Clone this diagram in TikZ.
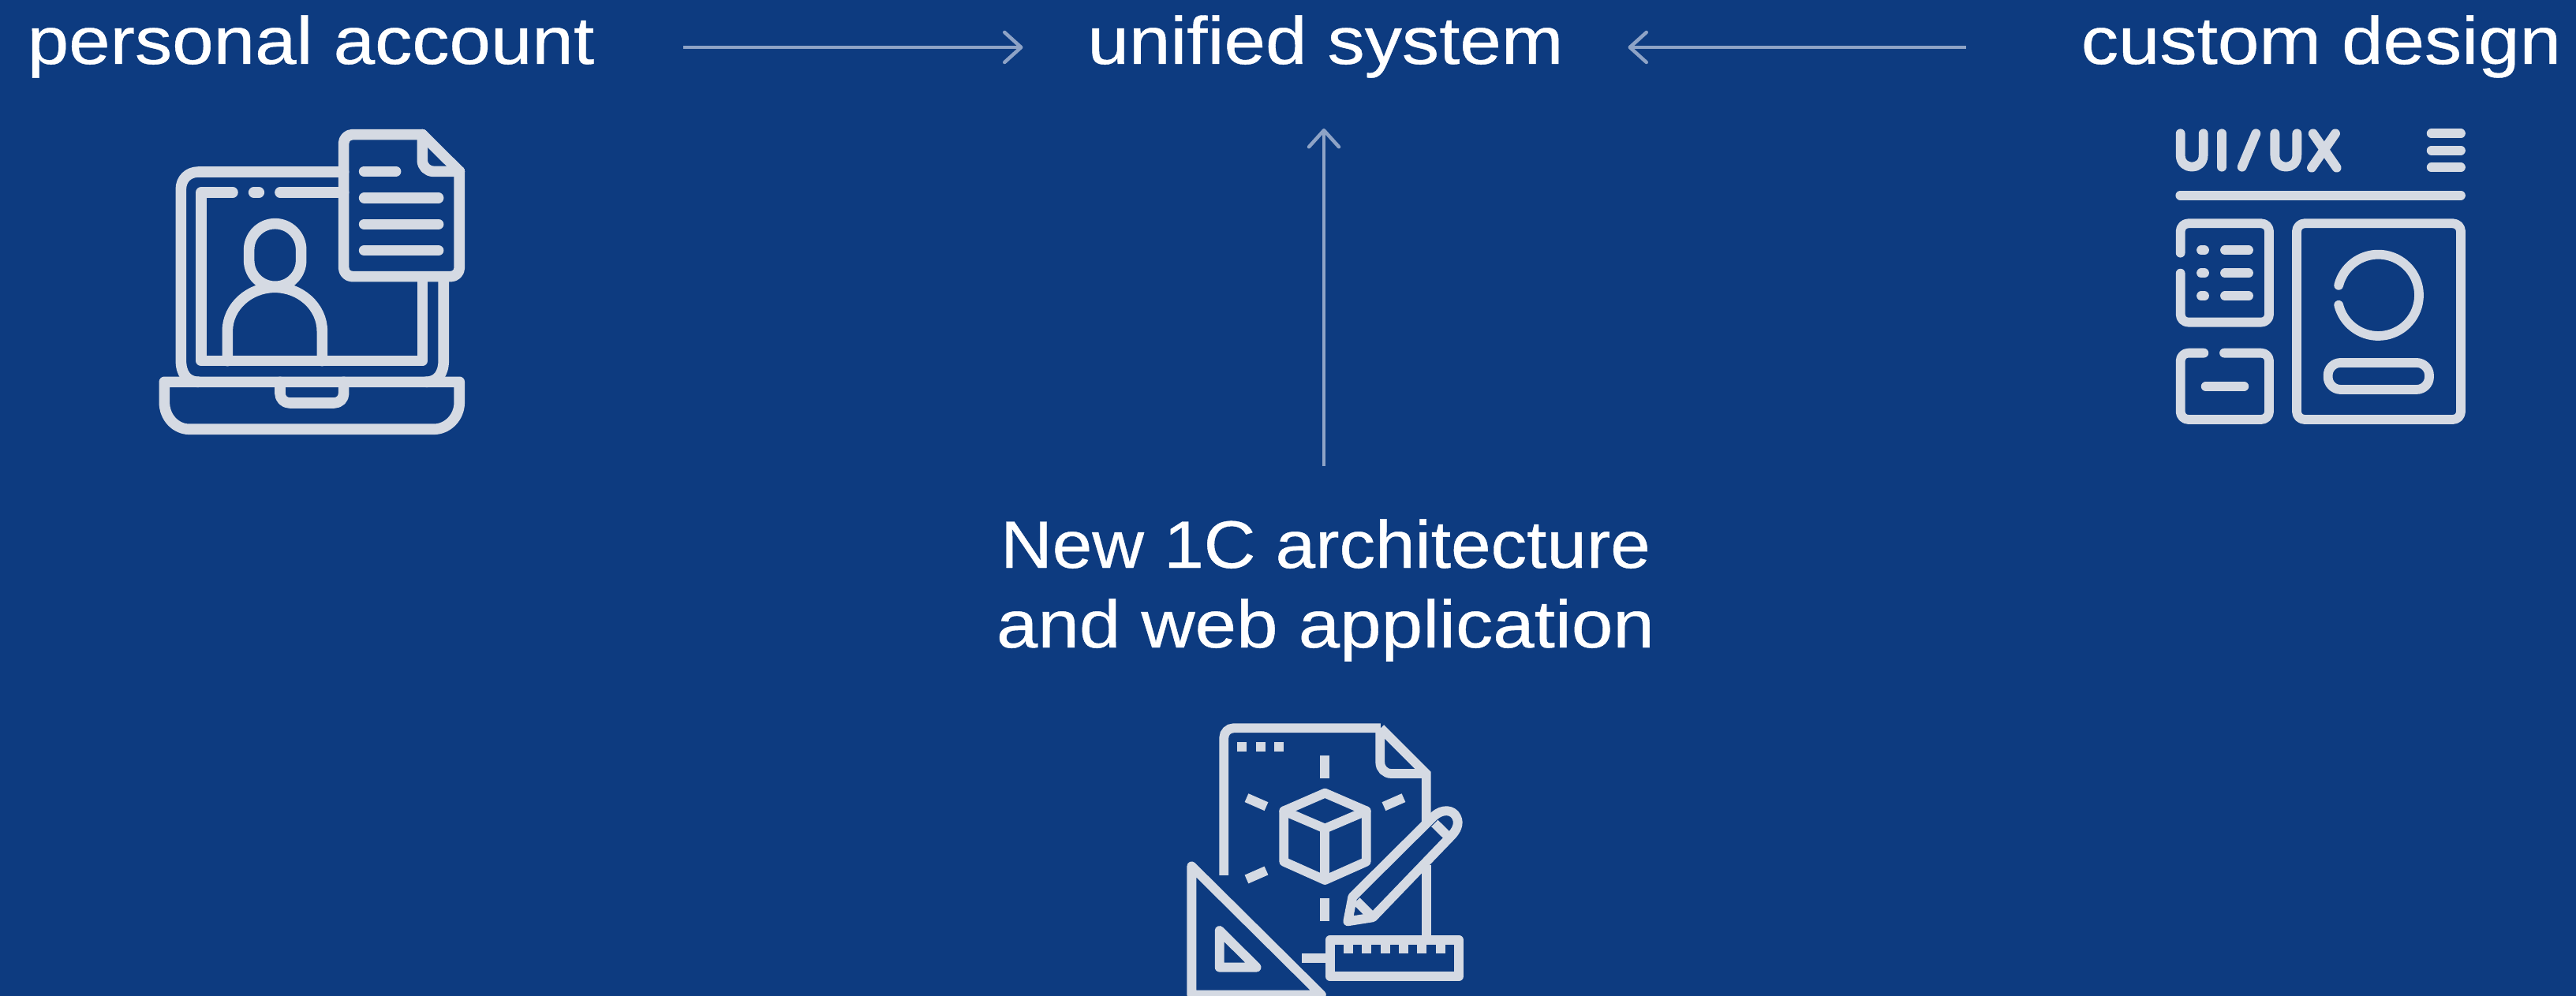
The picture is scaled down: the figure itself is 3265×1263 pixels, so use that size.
\documentclass[tikz,border=0pt]{standalone}
\usepackage{fontspec}
\usepackage{graphicx}
\newfontfamily\labfont[FakeStretch=1.11,FakeBold=0.5]{Liberation Sans}
\newfontfamily\labfontb[FakeStretch=1.07,FakeBold=0.5]{Liberation Sans}
\usetikzlibrary{arrows.meta}
\definecolor{bgblue}{RGB}{13,59,128}
\definecolor{iconc}{RGB}{213,218,227}
\definecolor{arrowc}{RGB}{142,163,198}
\tikzset{
 x=1pt,y=-1pt,
 lab/.style={inner sep=0pt,outer sep=0pt,text=white,anchor=base,text height=42pt,text depth=0pt,
   font=\labfont\fontsize{85}{101}\selectfont},
 conn/.style={draw=arrowc,line width=4.5pt,-{Straight Barb[length=21pt,width=38pt,line width=4.5pt,round]}},
 ic/.style={draw=iconc,line cap=round,line join=round,line width=#1},
 ic/.default=13.6pt
}
\begin{document}
\begin{tikzpicture}
\fill[bgblue] (0,0) rectangle (3265,1263);
\useasboundingbox (0,0) rectangle (3265,1263);
\node[lab] (personal) at (394,81) {personal account};
\node[lab] (unified) at (1680,81) {unified system};
\node[lab] (custom) at (2942,81) {custom design};
\node[lab,align=center,anchor=center] (arch) at (1680,800) {{\labfontb New 1C architecture}\\and web application};
\draw[conn,shorten <=113pt,shorten >=82pt] (personal) -- (unified);
\draw[conn,shorten <=146pt,shorten >=82pt] (custom) -- (unified);
\draw[conn,shorten <=188pt,shorten >=82pt] ([xshift=-2pt]arch.north) -- ([xshift=-2pt]unified.south);

% laptop icon
\begin{scope}[shift={(180,140)},x=0.3333pt,y=-0.3333pt,ic]
\draw[ic] (767,234) -- (215,234) .. controls (175,234) and (148,262) .. (148,300) -- (148,950) .. controls (148,1000) and (170,1033) .. (215,1033);
\draw[ic] (1147,640) -- (1147,950) .. controls (1147,1000) and (1125,1033) .. (1080,1033);
\draw[ic] (345,312) -- (225,312) -- (225,953) -- (1066,953) -- (1066,640);
\draw[ic] (425,312) -- (445,312);
\draw[ic] (525,312) -- (767,312);
\draw[ic,rounded corners=33pt] (407,431) rectangle (605,670);
\draw[ic] (325,953) -- (325,840) .. controls (325,745) and (410,673) .. (505,673) .. controls (600,673) and (685,745) .. (685,840) -- (685,953);
\draw[ic,rounded corners=11pt] (1066,92) -- (767,92) -- (767,632) -- (1207,632) -- (1207,232);
\draw[ic] (1207,232) -- (1066,92);
\draw[ic,rounded corners=14pt] (1066,92) -- (1066,232) -- (1207,232);
\draw[ic] (845,232) -- (965,232);
\draw[ic] (845,333) -- (1127,333);
\draw[ic] (845,433) -- (1127,433);
\draw[ic] (845,533) -- (1127,533);
\draw[ic] (85,1033) -- (1207,1033) -- (1207,1110) .. controls (1207,1170) and (1160,1213) .. (1110,1213) -- (180,1213) .. controls (130,1213) and (85,1170) .. (85,1110) -- cycle;
\draw[ic,rounded corners=12pt] (525,1033) -- (525,1113) -- (767,1113) -- (767,1033);
\end{scope}

% UI/UX icon
\begin{scope}[shift={(2730,140)},x=0.3333pt,y=-0.3333pt]
\tikzset{u/.style={ic=11.8pt}}
\draw[u] (101,88) -- (101,170) .. controls (101,230) and (188,230) .. (188,170) -- (188,88);
\draw[u] (259,88) -- (259,215);
\draw[u] (388,88) -- (335,215);
\draw[u] (460,88) -- (460,170) .. controls (460,230) and (544,230) .. (544,170) -- (544,88);
\draw[u] (605,88) -- (695,218);
\draw[u] (690,88) -- (600,218);
\draw[u] (1055,88) -- (1167,88);
\draw[u] (1055,152) -- (1167,152);
\draw[u] (1055,217) -- (1167,217);
\draw[u] (100,323) -- (1167,323);
\draw[u,rounded corners=10pt] (101,542) -- (101,430) -- (438,430) -- (438,806) -- (101,806) -- (101,620);
\draw[u] (180,532) -- (192,532);
\draw[u] (180,619) -- (192,619);
\draw[u] (180,706) -- (192,706);
\draw[u] (270,532) -- (360,532);
\draw[u] (270,619) -- (360,619);
\draw[u] (270,706) -- (360,706);
\draw[u,rounded corners=10pt] (190,923) -- (101,923) -- (101,1176) -- (438,1176) -- (438,923) -- (267,923);
\draw[u] (197,1050) -- (343,1050);
\draw[u,rounded corners=10pt] (543,430) rectangle (1167,1176);
\draw[u] plot[domain=-166:166,samples=70] ({853+155*cos(\x)},{703+155*sin(\x)});
\draw[u,rounded corners=16pt] (662,960) rectangle (1047,1062);
\end{scope}

% design icon
\begin{scope}[shift={(1480,900)},x=0.3333pt,y=-0.3333pt]
\tikzset{d/.style={ic=11.8pt,line cap=butt,line join=miter},dr/.style={ic=11.8pt}}
\draw[d,rounded corners=12pt] (214,630) -- (214,70) -- (810,70);
\draw[d] (810,70) -- (983,243) -- (983,430);
\draw[d] (983,590) -- (983,862);
\draw[d,rounded corners=14pt] (808,75) -- (808,243) -- (983,243);
\foreach \q in {283,353,423}{\fill[iconc] (\q-18,122) rectangle (\q+18,158);}
\draw[d] (598,175) -- (598,262);
\draw[d] (598,718) -- (598,805);
\draw[d] (300,335) -- (375,368);
\draw[d] (897,335) -- (822,368);
\draw[d] (300,645) -- (375,612);
\draw[dr] (598,317) -- (755,385) -- (755,578) -- (598,648) -- (442,578) -- (442,385) -- cycle;
\draw[dr] (442,385) -- (598,452) -- (755,385);
\draw[d] (598,452) -- (598,648);
\draw[dr] (685,805) -- (703,712) -- (1012,405) .. controls (1045,375) and (1085,380) .. (1098,408) .. controls (1112,435) and (1095,462) .. (1080,478) -- (780,790) -- cycle;
\draw[d] (718,728) -- (772,782);
\draw[d] (1015,432) -- (1062,478);
\draw[dr] (91,595) -- (91,1085) -- (585,1085) -- cycle;
\draw[dr] (197,840) -- (197,980) -- (338,980) -- cycle;
\draw[dr] (617,875) rectangle (1107,1015);
\foreach \q in {687,757,827,897,967,1037}{\draw[d] (\q,880) -- (\q,928);}
\draw[d] (510,945) -- (617,945);
\end{scope}
\end{tikzpicture}
\end{document}
